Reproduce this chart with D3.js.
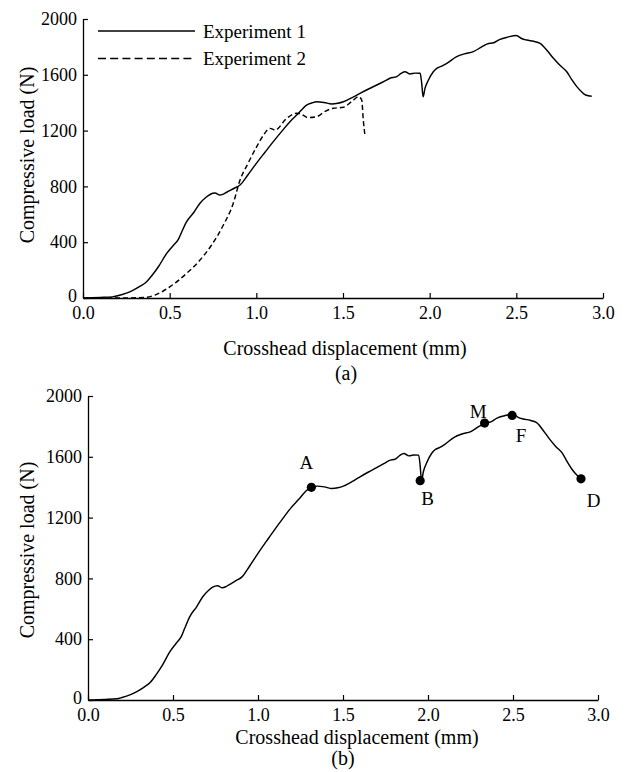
<!DOCTYPE html>
<html>
<head>
<meta charset="utf-8">
<script src="https://cdn.jsdelivr.net/npm/d3@7"></script>
<style>
  html, body { margin: 0; padding: 0; background: #fff; }
  svg { display: block; }
  text { font-family: "Liberation Serif", "Times New Roman", serif; fill: #000; }
</style>
</head>
<body>
<svg id="chart" width="627" height="772"></svg>
<script>
// ---------------- DATA ----------------
const xTicks = [0.0, 0.5, 1.0, 1.5, 2.0, 2.5, 3.0];
const yTicks = [0, 400, 800, 1200, 1600, 2000];
const seriesNames = ["Experiment 1", "Experiment 2"];

// Experiment 1: crosshead displacement (mm) / compressive load (N)
const exp1X = [0.00, 0.10, 0.17, 0.20, 0.25, 0.29, 0.33, 0.367, 0.40, 0.435, 0.483, 0.52, 0.55, 0.57, 0.598,
  0.64, 0.675, 0.71, 0.733, 0.762, 0.79, 0.81, 0.829, 0.87, 0.906, 0.95, 1.00, 1.05, 1.098, 1.15, 1.194,
  1.24, 1.29, 1.32, 1.348, 1.39, 1.435, 1.47, 1.502, 1.55, 1.598, 1.65, 1.695, 1.74, 1.771, 1.81, 1.835,
  1.858, 1.887, 1.915, 1.945, 1.954, 1.962, 1.973, 1.993, 2.021, 2.041, 2.07, 2.099, 2.156, 2.20, 2.252,
  2.30, 2.333, 2.37, 2.406, 2.45, 2.50, 2.53, 2.56, 2.60, 2.637, 2.68, 2.714, 2.75, 2.791, 2.82, 2.849,
  2.875, 2.90, 2.935];
const exp1Y = [0, 4, 8, 16, 35, 57, 85, 117, 165, 224, 320, 375, 420, 475, 547,
  615, 679, 722, 742, 752, 738, 745, 758, 785, 810, 880, 965, 1045, 1121, 1200, 1264,
  1320, 1383, 1398, 1407, 1402, 1391, 1396, 1407, 1435, 1467, 1500, 1527, 1555, 1575, 1587, 1610,
  1622, 1606, 1612, 1611, 1540, 1443, 1503, 1563, 1622, 1646, 1662, 1682, 1730, 1750, 1766,
  1800, 1822, 1830, 1854, 1870, 1882, 1860, 1849, 1840, 1826, 1770, 1718, 1670, 1622, 1565, 1515,
  1480, 1455, 1446];

// Experiment 2
const exp2X = [0.00, 0.20, 0.35, 0.415, 0.502, 0.598, 0.675, 0.742, 0.81, 0.867, 0.906, 0.95, 1.00,
  1.04, 1.079, 1.108, 1.175, 1.233, 1.27, 1.30, 1.348, 1.40, 1.444, 1.502, 1.56, 1.589, 1.608, 1.617, 1.627];
const exp2Y = [0, 0, 3, 21, 81, 177, 272, 380, 523, 679, 846, 960, 1080,
  1165, 1216, 1204, 1288, 1324, 1310, 1293, 1300, 1340, 1360, 1367, 1419, 1443, 1419, 1276, 1161];

// Marked points in panel (b)
const markerLabels = ["A", "B", "M", "F", "D"];
const markerX = [1.314, 1.954, 2.333, 2.495, 2.90];
const markerY = [1399, 1443, 1822, 1872, 1455];

const panelLabels = ["(a)", "(b)"];
const xTitle = "Crosshead displacement (mm)";
const yTitle = "Compressive load (N)";

// ---------------- LAYOUT ----------------
const svg = d3.select("#chart");
const fmtX = d3.format(".1f");

const exp1 = exp1X.map((x, i) => ({ x, y: exp1Y[i] }));
const exp2 = exp2X.map((x, i) => ({ x, y: exp2Y[i] }));
const markers = markerLabels.map((l, i) => ({ label: l, x: markerX[i], y: markerY[i] }));

function drawPanel(cfg) {
  const x = d3.scaleLinear().domain([0, 3]).range([cfg.x0, cfg.x1]);
  const y = d3.scaleLinear().domain([0, 2000]).range([cfg.y0, cfg.y1]);
  const g = svg.append("g");

  const xAxis = d3.axisBottom(x).tickValues(xTicks).tickFormat(fmtX)
    .tickSize(-5).tickSizeOuter(0).tickPadding(cfg.xPad);
  const yAxis = d3.axisLeft(y).tickValues(yTicks).tickFormat(d3.format("d"))
    .tickSize(-5).tickSizeOuter(0).tickPadding(6);

  const gx = g.append("g").attr("transform", `translate(0,${cfg.y0})`).call(xAxis);
  const gy = g.append("g").attr("transform", `translate(${cfg.x0},0)`).call(yAxis);
  [gx, gy].forEach(a => {
    a.selectAll("path.domain").attr("stroke", "#000").attr("stroke-width", 1.3);
    a.selectAll(".tick line").attr("stroke", "#000").attr("stroke-width", 1.2);
    a.selectAll(".tick text").attr("font-family", "Liberation Serif, serif")
      .attr("font-size", 18).attr("fill", "#000");
  });
  // lift the y "0" label slightly so it clears the "0.0" label
  gy.selectAll(".tick text").filter(d => d === 0).attr("dy", "0.2em");

  const line = d3.line().x(d => x(d.x)).y(d => y(d.y)).curve(d3.curveMonotoneX);

  cfg.series.forEach(s => {
    g.append("path").datum(s.data)
      .attr("d", line)
      .attr("fill", "none")
      .attr("stroke", "#000")
      .attr("stroke-width", 1.45)
      .attr("stroke-linejoin", "round")
      .attr("stroke-dasharray", s.dash || null);
  });

  // axis titles
  g.append("text").attr("x", cfg.xTitleX).attr("y", cfg.xTitleY)
    .attr("text-anchor", "middle").attr("font-size", 20).text(xTitle);
  g.append("text")
    .attr("transform", `translate(${cfg.yTitleX},${cfg.yTitleY}) rotate(-90)`)
    .attr("text-anchor", "middle").attr("font-size", 20).text(yTitle);
  g.append("text").attr("x", cfg.panelX).attr("y", cfg.panelY)
    .attr("text-anchor", "middle").attr("font-size", 20).text(cfg.panel);

  return { g, x, y };
}

// Panel (a)
const pa = drawPanel({
  x0: 83, x1: 603, y0: 298, y1: 19, xPad: 8,
  series: [{ data: exp1 }, { data: exp2, dash: "5,3" }],
  xTitleX: 345, xTitleY: 355, yTitleX: 34, yTitleY: 155,
  panelX: 346, panelY: 380, panel: panelLabels[0]
});

// legend
const legend = pa.g.append("g");
seriesNames.forEach((name, i) => {
  const ly = 31 + i * 27.5;
  legend.append("line").attr("x1", 98).attr("x2", 195).attr("y1", ly).attr("y2", ly)
    .attr("stroke", "#000").attr("stroke-width", 1.4)
    .attr("stroke-dasharray", i === 1 ? "8,4.2" : null);
  legend.append("text").attr("x", 203).attr("y", ly + 6.5)
    .attr("font-size", 19).text(name);
});

// Panel (b)
const lastX = markerX[markerX.length - 1];
const pb = drawPanel({
  x0: 88, x1: 598, y0: 700, y1: 396, xPad: 8,
  series: [{ data: exp1.filter(d => d.x <= lastX + 1e-9) }],
  xTitleX: 357, xTitleY: 743.5, yTitleX: 34, yTitleY: 550,
  panelX: 343, panelY: 765, panel: panelLabels[1]
});

const labelOffsets = { A: [-5, -18.5], B: [7.5, 24.5], M: [-6.5, -5.5], F: [9, 26.5], D: [12.5, 28.5] };
const mg = pb.g.append("g");
mg.selectAll("circle").data(markers).join("circle")
  .attr("cx", d => pb.x(d.x)).attr("cy", d => pb.y(d.y)).attr("r", 4.6).attr("fill", "#000");
mg.selectAll("text").data(markers).join("text")
  .attr("x", d => pb.x(d.x) + labelOffsets[d.label][0])
  .attr("y", d => pb.y(d.y) + labelOffsets[d.label][1])
  .attr("text-anchor", "middle").attr("font-size", 19).text(d => d.label);
</script>
</body>
</html>
